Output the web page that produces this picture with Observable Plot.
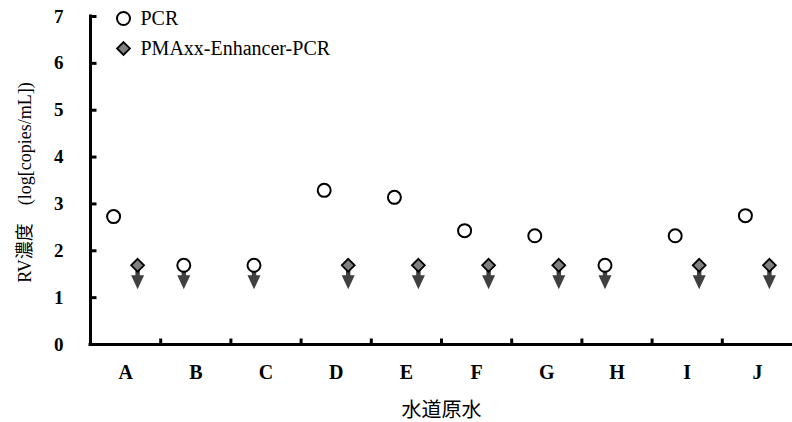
<!DOCTYPE html>
<html><head><meta charset="utf-8">
<script src="https://cdn.jsdelivr.net/npm/d3@7"></script>
<script src="https://cdn.jsdelivr.net/npm/@observablehq/plot@0.6"></script>
<style>html,body{margin:0;padding:0;background:#fff} #chart svg{display:block}</style>
</head><body><div id="chart"></div>
<script>
const categories = ["A","B","C","D","E","F","G","H","I","J"];
const yTicks = [0,1,2,3,4,5,6,7];
const pcr = [2.73,1.69,1.69,3.29,3.14,2.43,2.32,1.69,2.32,2.75];
const pcrBelowLimit = [false,true,true,false,false,false,false,true,false,false];
const pma = [1.69,null,null,1.69,1.69,1.69,1.69,null,1.69,1.69];
const pmaBelowLimit = [true,false,false,true,true,true,true,false,true,true];
const seriesNames = ["PCR","PMAxx-Enhancer-PCR"];
const xTitle = "水道原水";
const yTitle = "RV濃度\u3000(log[copies/mL])";

const rows = categories.map((c,i)=>({cat:c, x:i+0.5, pcr:pcr[i], pcrND:pcrBelowLimit[i], pma:pma[i], pmaND:pmaBelowLimit[i]}));
const boundaries = d3.range(1, categories.length);

const serif = "'Liberation Serif','Times New Roman',serif";
const arrowDown = {draw(ctx){ ctx.moveTo(-2.2,0); ctx.lineTo(2.2,0); ctx.lineTo(2.2,10); ctx.lineTo(6.5,10); ctx.lineTo(0,24); ctx.lineTo(-6.5,10); ctx.lineTo(-2.2,10); ctx.closePath(); }};
const tickRight = {draw(ctx){ ctx.moveTo(0,0); ctx.lineTo(6,0); }};
const tickUp = {draw(ctx){ ctx.moveTo(0,0); ctx.lineTo(0,-6); }};

const chart = Plot.plot({
  width: 792, height: 422,
  marginLeft: 90, marginRight: 0, marginTop: 16, marginBottom: 78,
  x: {domain: [0, categories.length], axis: null},
  y: {domain: [0, 7], axis: null},
  marks: [
    // axes
    Plot.ruleX([0], {stroke: "#000", strokeWidth: 3, strokeLinecap: "square"}),
    Plot.ruleY([0], {stroke: "#000", strokeWidth: 3, strokeLinecap: "square"}),
    Plot.dot(yTicks, {y: d => d, frameAnchor: "left", symbol: tickRight, fill: "none", stroke: "#000", strokeWidth: 3}),
    Plot.dot(boundaries, {x: d => d, frameAnchor: "bottom", symbol: tickUp, fill: "none", stroke: "#000", strokeWidth: 3}),
    Plot.text(yTicks, {y: d => d, frameAnchor: "left", dx: -27, textAnchor: "end", lineAnchor: "middle", fontFamily: serif, fontWeight: "bold", fontSize: 19, fill: "#000"}),
    Plot.text(rows, {x: "x", text: "cat", frameAnchor: "bottom", dy: 28, textAnchor: "middle", lineAnchor: "middle", fontFamily: serif, fontWeight: "bold", fontSize: 20, fill: "#000"}),
    Plot.text([yTitle], {frameAnchor: "left", dx: -65, dy: 2, rotate: -90, textAnchor: "middle", lineAnchor: "middle", fontFamily: "'Liberation Serif','Noto Sans CJK JP',serif", fontSize: 18, fill: "#000"}),
    Plot.text([xTitle], {frameAnchor: "bottom", dy: 66, textAnchor: "middle", lineAnchor: "middle", fontFamily: "'Noto Sans CJK JP',sans-serif", fontSize: 20, fill: "#000"}),
    // detection-limit arrows
    Plot.dot(rows.filter(d => d.pcrND), {x: "x", y: "pcr", dx: -12, symbol: arrowDown, r: 5, fill: "#404040", stroke: "none"}),
    Plot.dot(rows.filter(d => d.pmaND && d.pma != null), {x: "x", y: "pma", dx: 12, symbol: arrowDown, r: 5, fill: "#404040", stroke: "none"}),
    // markers
    Plot.dot(rows, {x: "x", y: "pcr", dx: -12, symbol: "circle", r: 6.5, fill: "#fff", stroke: "#000", strokeWidth: 2}),
    Plot.dot(rows.filter(d => d.pma != null), {x: "x", y: "pma", dx: 12, symbol: "diamond2", r: 5.8, fill: "#808080", stroke: "#000", strokeWidth: 1.8}),
    // legend
    Plot.dot([seriesNames[0]], {frameAnchor: "top-left", dx: 33, dy: 2, symbol: "circle", r: 6.5, fill: "#fff", stroke: "#000", strokeWidth: 2}),
    Plot.dot([seriesNames[1]], {frameAnchor: "top-left", dx: 33, dy: 32, symbol: "diamond2", r: 5.8, fill: "#808080", stroke: "#000", strokeWidth: 1.8}),
    Plot.text([seriesNames[0]], {frameAnchor: "top-left", dx: 50, dy: 2, textAnchor: "start", lineAnchor: "middle", fontFamily: serif, fontSize: 20, fill: "#000"}),
    Plot.text([seriesNames[1]], {frameAnchor: "top-left", dx: 50, dy: 32, textAnchor: "start", lineAnchor: "middle", fontFamily: serif, fontSize: 20, fill: "#000"})
  ]
});
document.getElementById("chart").appendChild(chart);
</script>
</body></html>
